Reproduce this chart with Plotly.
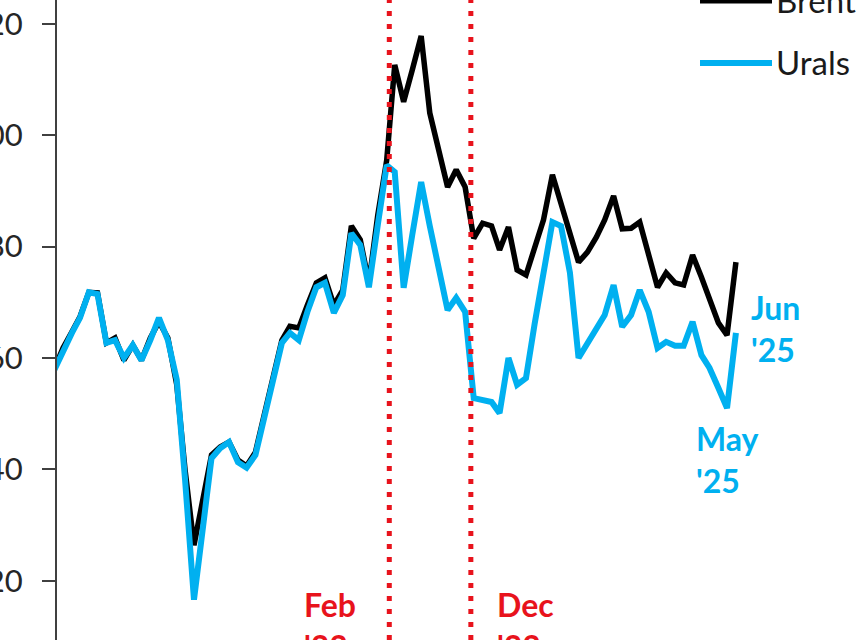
import plotly.graph_objects as go

# ---- data (monthly averages, USD/bbl), Dec 2018 .. Jun 2025 ----
start_year, start_month, n_months = 2018, 12, 79
dates = []
y, m = start_year, start_month
for _ in range(n_months):
    dates.append(f"{y}-{m:02d}-15")
    m += 1
    if m > 12:
        m = 1
        y += 1

brent = [58.0, 61.8, 64.7, 67.4, 71.8, 71.7, 62.7, 63.6, 59.6, 62.3,
         59.6, 63.6, 66.5, 63.6, 55.2, 39.9, 26.4, 34.5, 42.6, 44.0,
         44.9, 41.7, 40.6, 43.1, 49.8, 56.4, 63.2, 65.7, 65.4, 69.5,
         73.5, 74.4, 69.5, 72.2, 83.7, 81.2, 73.5, 85.7, 95.5, 112.6,
         106.0, 111.7, 117.8, 104.0, 97.3, 90.7, 93.8, 90.7, 81.5, 84.2,
         83.7, 79.4, 83.5, 75.8, 74.9, 79.7, 84.8, 92.9, 87.5, 82.3,
         77.2, 79.0, 81.7, 84.8, 89.1, 83.2, 83.3, 84.4, 78.5, 72.7,
         75.3, 73.5, 73.1, 78.5, 74.5, 70.8, 66.3, 64.1, 77.2]

urals = [57.8, 61.4, 64.5, 67.2, 71.8, 71.5, 62.7, 63.2, 60.0, 62.3,
         59.6, 63.2, 67.2, 63.2, 56.1, 38.1, 16.6, 29.1, 42.0, 43.8,
         44.9, 41.3, 40.3, 42.6, 49.2, 56.1, 62.7, 64.5, 63.2, 68.3,
         72.7, 73.5, 68.1, 71.3, 82.4, 80.3, 72.7, 83.9, 94.6, 93.4,
         72.6, 82.1, 91.6, 83.7, 76.2, 68.6, 70.8, 68.3, 52.8, 52.5,
         52.1, 50.1, 60.0, 55.2, 56.4, 66.1, 75.4, 84.4, 83.7, 75.3,
         60.0, 62.7, 65.0, 67.7, 73.1, 65.6, 67.7, 72.2, 68.3, 61.8,
         62.9, 62.2, 62.2, 66.5, 60.5, 58.2, 54.6, 51.0, 64.5]

y_ticks = [20, 40, 60, 80, 100, 120]
event_dates = ["2022-02-24", "2022-12-05"]
event_labels = ["Feb<br>'22", "Dec<br>'22"]
series_names = ["Brent", "Urals"]
end_labels = ["Jun<br>'25", "May<br>'25"]

BLACK = "#000000"
BLUE = "#00B0F0"
RED = "#E8131C"
FONT = "Lato"

fig = go.Figure()
fig.add_trace(go.Scatter(x=dates, y=brent, name=series_names[0], mode="lines",
                         line=dict(color=BLACK, width=5.5), showlegend=False))
fig.add_trace(go.Scatter(x=dates, y=urals, name=series_names[1], mode="lines",
                         line=dict(color=BLUE, width=6), showlegend=False))

W, H, L = 860, 640, 57
def px_x(p):
    return (p - L) / (W - L)
def px_y(p):
    return 1 - p / H

shapes = []
for d in event_dates:
    shapes.append(dict(type="line", xref="x", yref="paper", x0=d, x1=d, y0=0, y1=1,
                       line=dict(color=RED, width=5, dash="5px,8px"), layer="above"))
# legend samples
shapes.append(dict(type="line", xref="paper", yref="paper", x0=px_x(700), x1=px_x(772),
                   y0=px_y(0.5), y1=px_y(0.5), line=dict(color=BLACK, width=6)))
shapes.append(dict(type="line", xref="paper", yref="paper", x0=px_x(700), x1=px_x(772),
                   y0=px_y(63), y1=px_y(63), line=dict(color=BLUE, width=6)))

annotations = [
    dict(text=series_names[0], xref="paper", yref="paper", x=px_x(774), y=px_y(0),
         xanchor="left", yanchor="middle", showarrow=False,
         font=dict(family=FONT, size=33, color="#1a1a1a")),
    dict(text=series_names[1], xref="paper", yref="paper", x=px_x(774), y=px_y(62),
         xanchor="left", yanchor="middle", showarrow=False,
         font=dict(family=FONT, size=33, color="#1a1a1a")),
    dict(text=end_labels[0], xref="paper", yref="paper", x=px_x(749), y=px_y(328),
         xanchor="left", yanchor="middle", showarrow=False, align="left",
         font=dict(family=FONT, size=32, color=BLUE, weight="bold")),
    dict(text=end_labels[1], xref="paper", yref="paper", x=px_x(694), y=px_y(459),
         xanchor="left", yanchor="middle", showarrow=False, align="left",
         font=dict(family=FONT, size=32, color=BLUE, weight="bold")),
    dict(text=event_labels[0], xref="paper", yref="paper", x=px_x(302), y=px_y(625),
         xanchor="left", yanchor="middle", showarrow=False, align="left",
         font=dict(family=FONT, size=32, color=RED, weight="bold")),
    dict(text=event_labels[1], xref="paper", yref="paper", x=px_x(495), y=px_y(625),
         xanchor="left", yanchor="middle", showarrow=False, align="left",
         font=dict(family=FONT, size=32, color=RED, weight="bold")),
]

fig.update_layout(
    width=W, height=H,
    margin=dict(l=L, r=0, t=0, b=0, autoexpand=False),
    paper_bgcolor="white", plot_bgcolor="white",
    showlegend=False,
    shapes=shapes, annotations=annotations,
    xaxis=dict(type="date", range=["2018-12-25", "2026-08-21"], visible=False,
               showgrid=False, zeroline=False),
    yaxis=dict(range=[9.37, 124.27], tickvals=y_ticks, ticks="outside", ticklen=13,
               tickwidth=2, tickcolor="#404040", showline=True, linecolor="#404040",
               linewidth=2, showgrid=False, zeroline=False, ticklabelstandoff=13,
               tickfont=dict(family=FONT, size=31, color="#262626")),
)

fig.write_html("out.html", config={"displayModeBar": False},
               post_script="document.body.style.margin='0';document.body.style.overflow='hidden';")
